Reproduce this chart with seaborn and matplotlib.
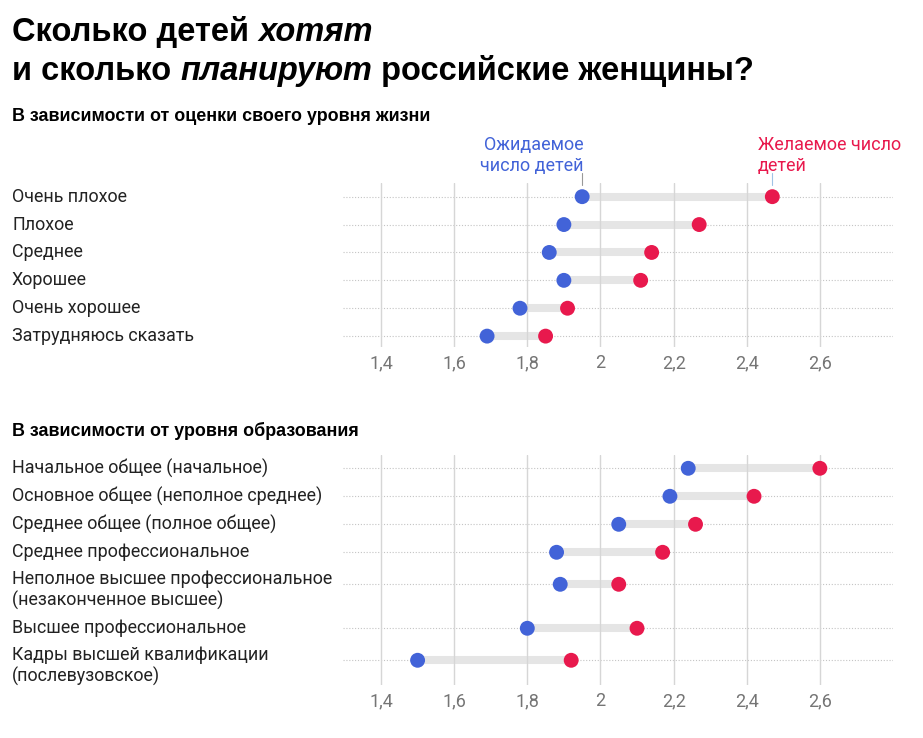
import matplotlib
matplotlib.use("Agg")
import matplotlib.pyplot as plt
import matplotlib.transforms as mtransforms
import seaborn as sns
import pandas as pd

# --- data ---
life_labels = ["Очень плохое", "Плохое", "Среднее", "Хорошее",
               "Очень хорошее", "Затрудняюсь сказать"]
life_expected = [1.95, 1.90, 1.86, 1.90, 1.78, 1.69]
life_desired = [2.47, 2.27, 2.14, 2.11, 1.91, 1.85]

edu_labels = ["Начальное общее (начальное)",
              "Основное общее (неполное среднее)",
              "Среднее общее (полное общее)",
              "Среднее профессиональное",
              "Неполное высшее профессиональное\n(незаконченное высшее)",
              "Высшее профессиональное",
              "Кадры высшей квалификации\n(послевузовское)"]
edu_expected = [2.24, 2.19, 2.05, 1.88, 1.89, 1.80, 1.50]
edu_desired = [2.60, 2.42, 2.26, 2.17, 2.05, 2.10, 1.92]

x_ticks = [1.4, 1.6, 1.8, 2.0, 2.2, 2.4, 2.6]
x_tick_labels = ["1,4", "1,6", "1,8", "2", "2,2", "2,4", "2,6"]

BLUE = "#4263d8"
RED = "#e8194d"
W, H = 923, 738

sns.set_theme(style="white")
plt.rcParams["font.family"] = ["Roboto", "DejaVu Sans"]

fig = plt.figure(figsize=(W / 100, H / 100), dpi=100)


def px_axes(left, top, right, bottom):
    return fig.add_axes([left / W, 1 - bottom / H, (right - left) / W, (bottom - top) / H])


def row_positions(labels):
    # two-line labels take a taller row
    pos, top = [], 0.0
    for lab in labels:
        n = lab.count("\n")
        pos.append(top + 0.5 + 0.143 * n)
        top += 1 + 0.714 * n
    return pos


def draw_panel(ax, labels, expected, desired, ylim):
    y = row_positions(labels)
    df = pd.DataFrame({"label": labels, "y": y,
                       "Ожидаемое": expected, "Желаемое": desired})
    long = df.melt(id_vars=["label", "y"], value_vars=["Ожидаемое", "Желаемое"],
                   var_name="kind", value_name="value")

    ax.set_xlim(1.296, 2.80)
    ax.set_ylim(*ylim)

    for yy in y:
        ax.axhline(yy, color="#c4c4c4", lw=0.8, ls=(0, (1, 1.6)), zorder=0)
    ax.hlines(df["y"], df["Ожидаемое"], df["Желаемое"], color="#e5e5e5", lw=5.8, zorder=1)
    for xt in x_ticks:
        ax.axvline(xt, color="#d6d6d6", lw=1.0, zorder=2)

    sns.scatterplot(data=long, x="value", y="y", hue="kind",
                    palette={"Ожидаемое": BLUE, "Желаемое": RED},
                    s=115, linewidth=0, legend=False, ax=ax, zorder=3, clip_on=False)

    ax.set_xticks(x_ticks, x_tick_labels)
    ax.set_yticks([])
    ax.tick_params(axis="x", length=0, pad=5, labelsize=13, labelcolor="#757575")
    ax.set_xlabel("")
    ax.set_ylabel("")
    for s in ax.spines.values():
        s.set_visible(False)

    trans = mtransforms.blended_transform_factory(fig.transFigure, ax.transData)
    for lab, yy in zip(labels, y):
        n = lab.count("\n")
        ax.text(12 / W, yy + 0.2 * n, lab, transform=trans, ha="left", va="center",
                fontsize=12.9, color="#222222")
    return y


ax1 = px_axes(343, 183, 893, 347)
y1 = draw_panel(ax1, life_labels, life_expected, life_desired, (5.89, 0.01))

ax2 = px_axes(343, 455, 893, 685)
draw_panel(ax2, edu_labels, edu_expected, edu_desired, (8.24, 0.025))

# callouts over the first row
ax1.annotate("Ожидаемое\nчисло детей", xy=(life_expected[0], y1[0]), xytext=(1, 18.5),
             textcoords="offset points", ha="right", va="baseline",
             fontsize=13, color=BLUE, annotation_clip=False)
ax1.annotate("Желаемое число\nдетей", xy=(life_desired[0], y1[0]), xytext=(-10.6, 18.5),
             textcoords="offset points", ha="left", va="baseline",
             fontsize=13, color=RED, annotation_clip=False)
ax1.plot([life_expected[0]] * 2, [y1[0] - 0.85, y1[0] - 0.42], color="#999999", lw=0.8, clip_on=False)
ax1.plot([life_desired[0]] * 2, [y1[0] - 0.85, y1[0] - 0.42], color="#9fc3e6", lw=0.8, clip_on=False)

# title with italic words
title_font = ["Liberation Sans", "DejaVu Sans"]
renderer = fig.canvas.get_renderer()


def rich_line(parts, x_px, base_px, size):
    x = x_px
    for txt, style in parts:
        t = fig.text(x / W, 1 - base_px / H, txt, fontsize=size, fontweight="bold",
                     fontstyle=style, family=title_font, color="black", va="baseline")
        x += t.get_window_extent(renderer).width


rich_line([("Сколько детей ", "normal"), ("хотят", "italic")], 12, 41, 23.5)
rich_line([("и сколько ", "normal"), ("планируют", "italic"),
           (" российские женщины?", "normal")], 12, 80, 23.5)

fig.text(12 / W, 1 - 121 / H, "В зависимости от оценки своего уровня жизни",
         fontsize=12.9, fontweight="bold", family=title_font, color="black", va="baseline")
fig.text(12 / W, 1 - 436 / H, "В зависимости от уровня образования",
         fontsize=12.9, fontweight="bold", family=title_font, color="black", va="baseline")

fig.savefig("out.png", dpi=100, facecolor="white")
